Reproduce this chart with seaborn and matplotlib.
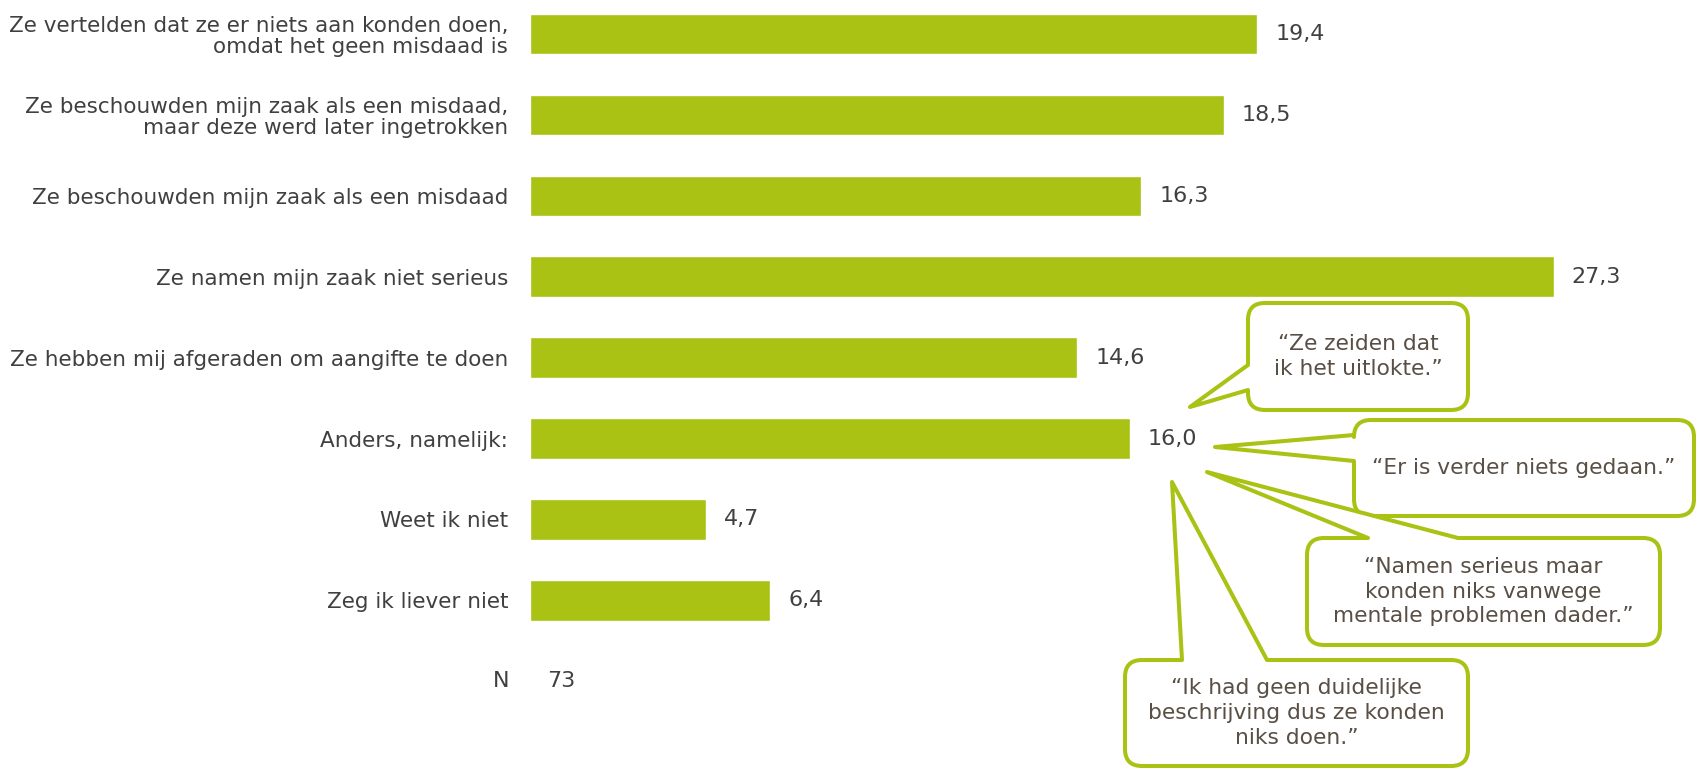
import numpy as np
import pandas as pd
import seaborn as sns
import matplotlib.pyplot as plt
from matplotlib.path import Path
from matplotlib.patches import PathPatch
from matplotlib.transforms import Affine2D

# data
categories = [
    "Ze vertelden dat ze er niets aan konden doen,\nomdat het geen misdaad is",
    "Ze beschouwden mijn zaak als een misdaad,\nmaar deze werd later ingetrokken",
    "Ze beschouwden mijn zaak als een misdaad",
    "Ze namen mijn zaak niet serieus",
    "Ze hebben mij afgeraden om aangifte te doen",
    "Anders, namelijk:",
    "Weet ik niet",
    "Zeg ik liever niet",
]
values = [19.4, 18.5, 16.3, 27.3, 14.6, 16.0, 4.7, 6.4]
n_total = 73

quotes = [
    "\u201cZe zeiden dat\nik het uitlokte.\u201d",
    "\u201cEr is verder niets gedaan.\u201d",
    "\u201cNamen serieus maar\nkonden niks vanwege\nmentale problemen dader.\u201d",
    "\u201cIk had geen duidelijke\nbeschrijving dus ze konden\nniks doen.\u201d",
]

GREEN = "#a9c214"
TXT = "#404040"
QTXT = "#594f45"
W, H = 1698, 769

sns.set_style("white")
plt.rcParams['font.family'] = ['DejaVu Sans']

df = pd.DataFrame({"cat": categories, "val": values})

fig = plt.figure(figsize=(W / 100, H / 100), dpi=100)
ax = fig.add_axes([530 / W, 0, 1168 / W, 1])
sns.barplot(data=df, x="val", y="cat", orient="h", color=GREEN,
            saturation=1, width=0.5, ax=ax)
ax.set_xlim(0, 31.15)
ax.set_ylim(9.085, -0.42)
ax.set_xlabel("")
ax.set_ylabel("")
ax.set_xticks([])
sns.despine(ax=ax, left=True, bottom=True)
ax.tick_params(axis="y", length=0, pad=15.8, labelsize=15.5, labelcolor=TXT)
for t in ax.get_yticklabels():
    t.set_linespacing(1.05)

ax.bar_label(ax.containers[0],
             labels=[f"{v:.1f}".replace(".", ",") for v in values],
             padding=13, fontsize=16, color=TXT)

# N row
ax.text(-0.56, 8.0, "N", ha="right", va="center", fontsize=16, color=TXT)
ax.text(0.45, 8.0, str(n_total), ha="left", va="center", fontsize=16, color=TXT)

# callouts, drawn in pixel coordinates (origin top-left)
px = Affine2D().scale(1 / W, -1 / H).translate(0, 1) + fig.transFigure


def callout(box, side, b1, b2, tip, text, z):
    x0, y0, x1, y1 = box
    r = 17
    verts = [(x0 + r, y0)]
    codes = [Path.MOVETO]
    if side == "top":
        verts += [(b1, y0), tip, (b2, y0)]
        codes += [Path.LINETO] * 3
    verts += [(x1 - r, y0), (x1, y0), (x1, y0 + r),
              (x1, y1 - r), (x1, y1), (x1 - r, y1),
              (x0 + r, y1), (x0, y1), (x0, y1 - r)]
    codes += [Path.LINETO, Path.CURVE3, Path.CURVE3,
              Path.LINETO, Path.CURVE3, Path.CURVE3,
              Path.LINETO, Path.CURVE3, Path.CURVE3]
    if side == "left":
        verts += [(x0, b2), tip, (x0, b1)]
        codes += [Path.LINETO] * 3
    verts += [(x0, y0 + r), (x0, y0), (x0 + r, y0), (x0 + r, y0)]
    codes += [Path.LINETO, Path.CURVE3, Path.CURVE3, Path.CLOSEPOLY]
    patch = PathPatch(Path(verts, codes), facecolor="white", edgecolor=GREEN,
                      lw=2.9, joinstyle="round", transform=px, zorder=z)
    fig.add_artist(patch)
    fig.text((x0 + x1) / 2, (y0 + y1) / 2, text, transform=px,
             fontsize=15.7, color=QTXT, ha="center", va="center",
             linespacing=1.3, zorder=z + 0.5)


callout((1248, 303, 1468, 410), "left", 365, 390, (1190, 407), quotes[0], 5)
callout((1354, 420, 1694, 516), "left", 435, 461, (1215, 447), quotes[1], 6)
callout((1307, 538, 1660, 645), "top", 1368, 1458, (1207, 472), quotes[2], 7)
callout((1125, 660, 1468, 766), "top", 1182, 1267, (1172, 482), quotes[3], 8)

fig.savefig("out.png", dpi=100)
